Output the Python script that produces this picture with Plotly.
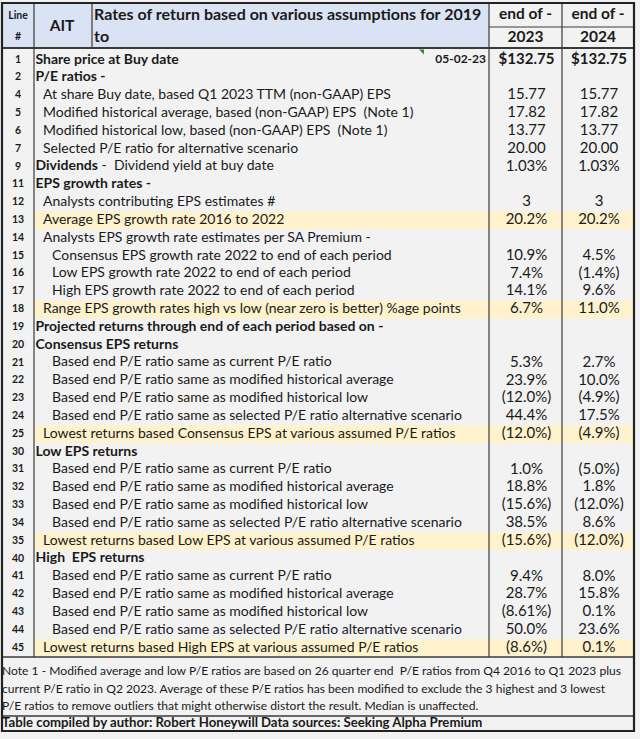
import plotly.graph_objects as go

# ---------------- data ----------------
line_nums = [1, 2, 4, 5, 6, 7, 9, 11, 12, 13, 14, 15, 16, 17, 18, 19, 20, 21, 22, 23,
             24, 25, 30, 31, 32, 33, 34, 35, 40, 41, 42, 43, 44, 45]
labels = [
    "<b>Share price at Buy date</b>",
    "<b>P/E ratios -</b>",
    "At share Buy date, based Q1 2023 TTM (non-GAAP) EPS",
    "Modified historical average, based (non-GAAP) EPS\u00a0 (Note 1)",
    "Modified historical low, based (non-GAAP) EPS\u00a0 (Note 1)",
    "Selected P/E ratio for alternative scenario",
    "<b>Dividends</b> -\u00a0 Dividend yield at buy date",
    "<b>EPS growth rates -</b>",
    "Analysts contributing EPS estimates #",
    "Average EPS growth rate 2016 to 2022",
    "Analysts EPS growth rate estimates per SA Premium -",
    "Consensus EPS growth rate 2022 to end of each period",
    "Low EPS growth rate 2022 to end of each period",
    "High EPS growth rate 2022 to end of each period",
    "Range EPS growth rates high vs low (near zero is better) %age points",
    "<b>Projected returns through end of each period based on -</b>",
    "<b>Consensus EPS returns</b>",
    "Based end P/E ratio same as current P/E ratio",
    "Based end P/E ratio same as modified historical average",
    "Based end P/E ratio same as modified historical low",
    "Based end P/E ratio same as selected P/E ratio alternative scenario",
    "Lowest returns based Consensus EPS at various assumed P/E ratios",
    "<b>Low EPS returns</b>",
    "Based end P/E ratio same as current P/E ratio",
    "Based end P/E ratio same as modified historical average",
    "Based end P/E ratio same as modified historical low",
    "Based end P/E ratio same as selected P/E ratio alternative scenario",
    "Lowest returns based Low EPS at various assumed P/E ratios",
    "<b>High\u00a0 EPS returns</b>",
    "Based end P/E ratio same as current P/E ratio",
    "Based end P/E ratio same as modified historical average",
    "Based end P/E ratio same as modified historical low",
    "Based end P/E ratio same as selected P/E ratio alternative scenario",
    "Lowest returns based High EPS at various assumed P/E ratios",
]
values_2023 = ["$132.75", "", "15.77", "17.82", "13.77", "20.00", "1.03%", "", "3", "20.2%",
               "", "10.9%", "7.4%", "14.1%", "6.7%", "", "", "5.3%", "23.9%", "(12.0%)",
               "44.4%", "(12.0%)", "", "1.0%", "18.8%", "(15.6%)", "38.5%", "(15.6%)", "", "9.4%",
               "28.7%", "(8.61%)", "50.0%", "(8.6%)"]
values_2024 = ["$132.75", "", "15.77", "17.82", "13.77", "20.00", "1.03%", "", "3", "20.2%",
               "", "4.5%", "(1.4%)", "9.6%", "11.0%", "", "", "2.7%", "10.0%", "(4.9%)",
               "17.5%", "(4.9%)", "", "(5.0%)", "1.8%", "(12.0%)", "8.6%", "(12.0%)", "", "8.0%",
               "15.8%", "0.1%", "23.6%", "0.1%"]
buy_date = "05-02-23"
ticker = "AIT"
title_lines = ["Rates of return based on various assumptions for 2019", "to"]
period_head = "end of -"
periods = ["2023", "2024"]
note_lines = [
    "Note 1 - Modified average and low P/E ratios are based on 26 quarter end\u00a0 P/E ratios from Q4 2016 to Q1 2023 plus",
    "current P/E ratio in Q2 2023. Average of these P/E ratios has been modified to exclude the 3 highest and 3 lowest",
    "P/E ratios to remove outliers that might otherwise distort the result. Median is unaffected.",
]
footer_left = "Table compiled by author: Robert Honeywill"
footer_right = "Data sources: Seeking Alpha Premium"

# ---------------- styles ----------------
indent = [0, 0, 1, 1, 1, 1, 0, 0, 1, 1, 1, 2, 2, 2, 1, 0, 0, 2, 2, 2,
          2, 1, 0, 2, 2, 2, 2, 1, 0, 2, 2, 2, 2, 1]
highlight_lines = {13, 18, 25, 35, 45}

FONT = "Lato"
TXT = "#1a1a1a"
BG = "#f2f2f2"
BLUE = "#dae3f3"
YELLOW = "#fff2cc"
LINE = "#3a3a3a"

X0, XL, XA, XC1, XC2, X1 = 2, 34, 92, 489, 562, 634
Y0, YH, YB = 3, 48, 657
YF, Y1 = 716, 731
ROW0, DY = 60.0, 17.82
indent_x = {0: 35.5, 1: 43, 2: 52}

row_y = [ROW0 + DY * i for i in range(len(line_nums))]

shapes = []
def rect(x0, y0, x1, y1, fill, layer="below"):
    shapes.append(dict(type="rect", xref="x", yref="y", x0=x0, y0=y0, x1=x1, y1=y1,
                       fillcolor=fill, line=dict(width=0), layer=layer))
def hline(x0, x1, y, w=1.2):
    shapes.append(dict(type="line", xref="x", yref="y", x0=x0, x1=x1, y0=y, y1=y,
                       line=dict(color=LINE, width=w), layer="above"))
def vline(x, y0, y1, w=1.2):
    shapes.append(dict(type="line", xref="x", yref="y", x0=x, x1=x, y0=y0, y1=y1,
                       line=dict(color=LINE, width=w), layer="above"))

# header fills
rect(X0, Y0, XC1, YH, BLUE)
# highlight rows
for ln, y in zip(line_nums, row_y):
    if ln in highlight_lines:
        rect(XL, y - DY / 2, X1, y + DY / 2, YELLOW)

# grid lines
vline(XL, Y0, YB)
vline(XA, Y0, YH)
vline(XC1, Y0, YB)
vline(XC2, Y0, YB)
hline(XC1, X1, 27)
hline(X0, X1, YH, 2)
hline(X0, X1, YB, 1.5)
hline(X0, X1, YF, 1.5)
# outer border
shapes.append(dict(type="rect", xref="x", yref="y", x0=X0, y0=Y0, x1=X1, y1=Y1,
                   line=dict(color="#222222", width=2.2), fillcolor="rgba(0,0,0,0)", layer="above"))
# comment marker
shapes.append(dict(type="path", xref="x", yref="y", path="M 419 49.5 L 424 49.5 L 424 54.5 Z",
                   fillcolor="#2e8b2e", line=dict(width=0), layer="above"))

fig = go.Figure()

def text_trace(xs, ys, texts, pos, size, bold=False, color=TXT):
    t = [f"<b>{s}</b>" if (bold and s) else s for s in texts]
    fig.add_trace(go.Scatter(x=xs, y=ys, text=t, mode="text", textposition=pos,
                             textfont=dict(family=FONT, size=size, color=color),
                             hoverinfo="skip", showlegend=False, cliponaxis=False))

# header
text_trace([18, 18], [16, 37], ["Line", "#"], "middle center", 10.5, bold=True)
text_trace([62], [27], [ticker], "middle center", 15.5, bold=True)
text_trace([94, 94], [16, 38], title_lines, "middle right", 16, bold=True)
text_trace([(XC1 + XC2) / 2, (XC2 + X1) / 2], [15.5, 15.5], [period_head, period_head],
           "middle center", 15.5, bold=True)
text_trace([(XC1 + XC2) / 2, (XC2 + X1) / 2], [38, 38], periods, "middle center", 15.5, bold=True)

# body
text_trace([18] * len(line_nums), row_y, [str(n) for n in line_nums], "middle center", 10.5, bold=True)
text_trace([indent_x[i] for i in indent], row_y, labels, "middle right", 14)
text_trace([486], [row_y[0]], [buy_date], "middle left", 12, bold=True)
v23 = [f"<b>{v}</b>" if v.startswith("$") else v for v in values_2023]
v24 = [f"<b>{v}</b>" if v.startswith("$") else v for v in values_2024]
text_trace([(XC1 + XC2) / 2 + 1] * len(v23), row_y, v23, "middle center", 15)
text_trace([(XC2 + X1) / 2 + 1] * len(v24), row_y, v24, "middle center", 15)

# note and footer
text_trace([2, 2, 2], [672, 689.5, 707], note_lines, "middle right", 12.1)
text_trace([2, 261], [724, 724], [footer_left, footer_right], "middle right", 13.2, bold=True)

fig.update_layout(
    width=640, height=739, margin=dict(l=0, r=0, t=0, b=0),
    paper_bgcolor=BG, plot_bgcolor=BG, shapes=shapes,
    xaxis=dict(range=[0, 640], visible=False, fixedrange=True),
    yaxis=dict(range=[739, 0], visible=False, fixedrange=True),
)
fig.write_html("out.html", config={"displayModeBar": False},
               post_script="document.body.style.margin='0';document.body.style.overflow='hidden';"
                           "document.body.style.background='#f2f2f2';")
